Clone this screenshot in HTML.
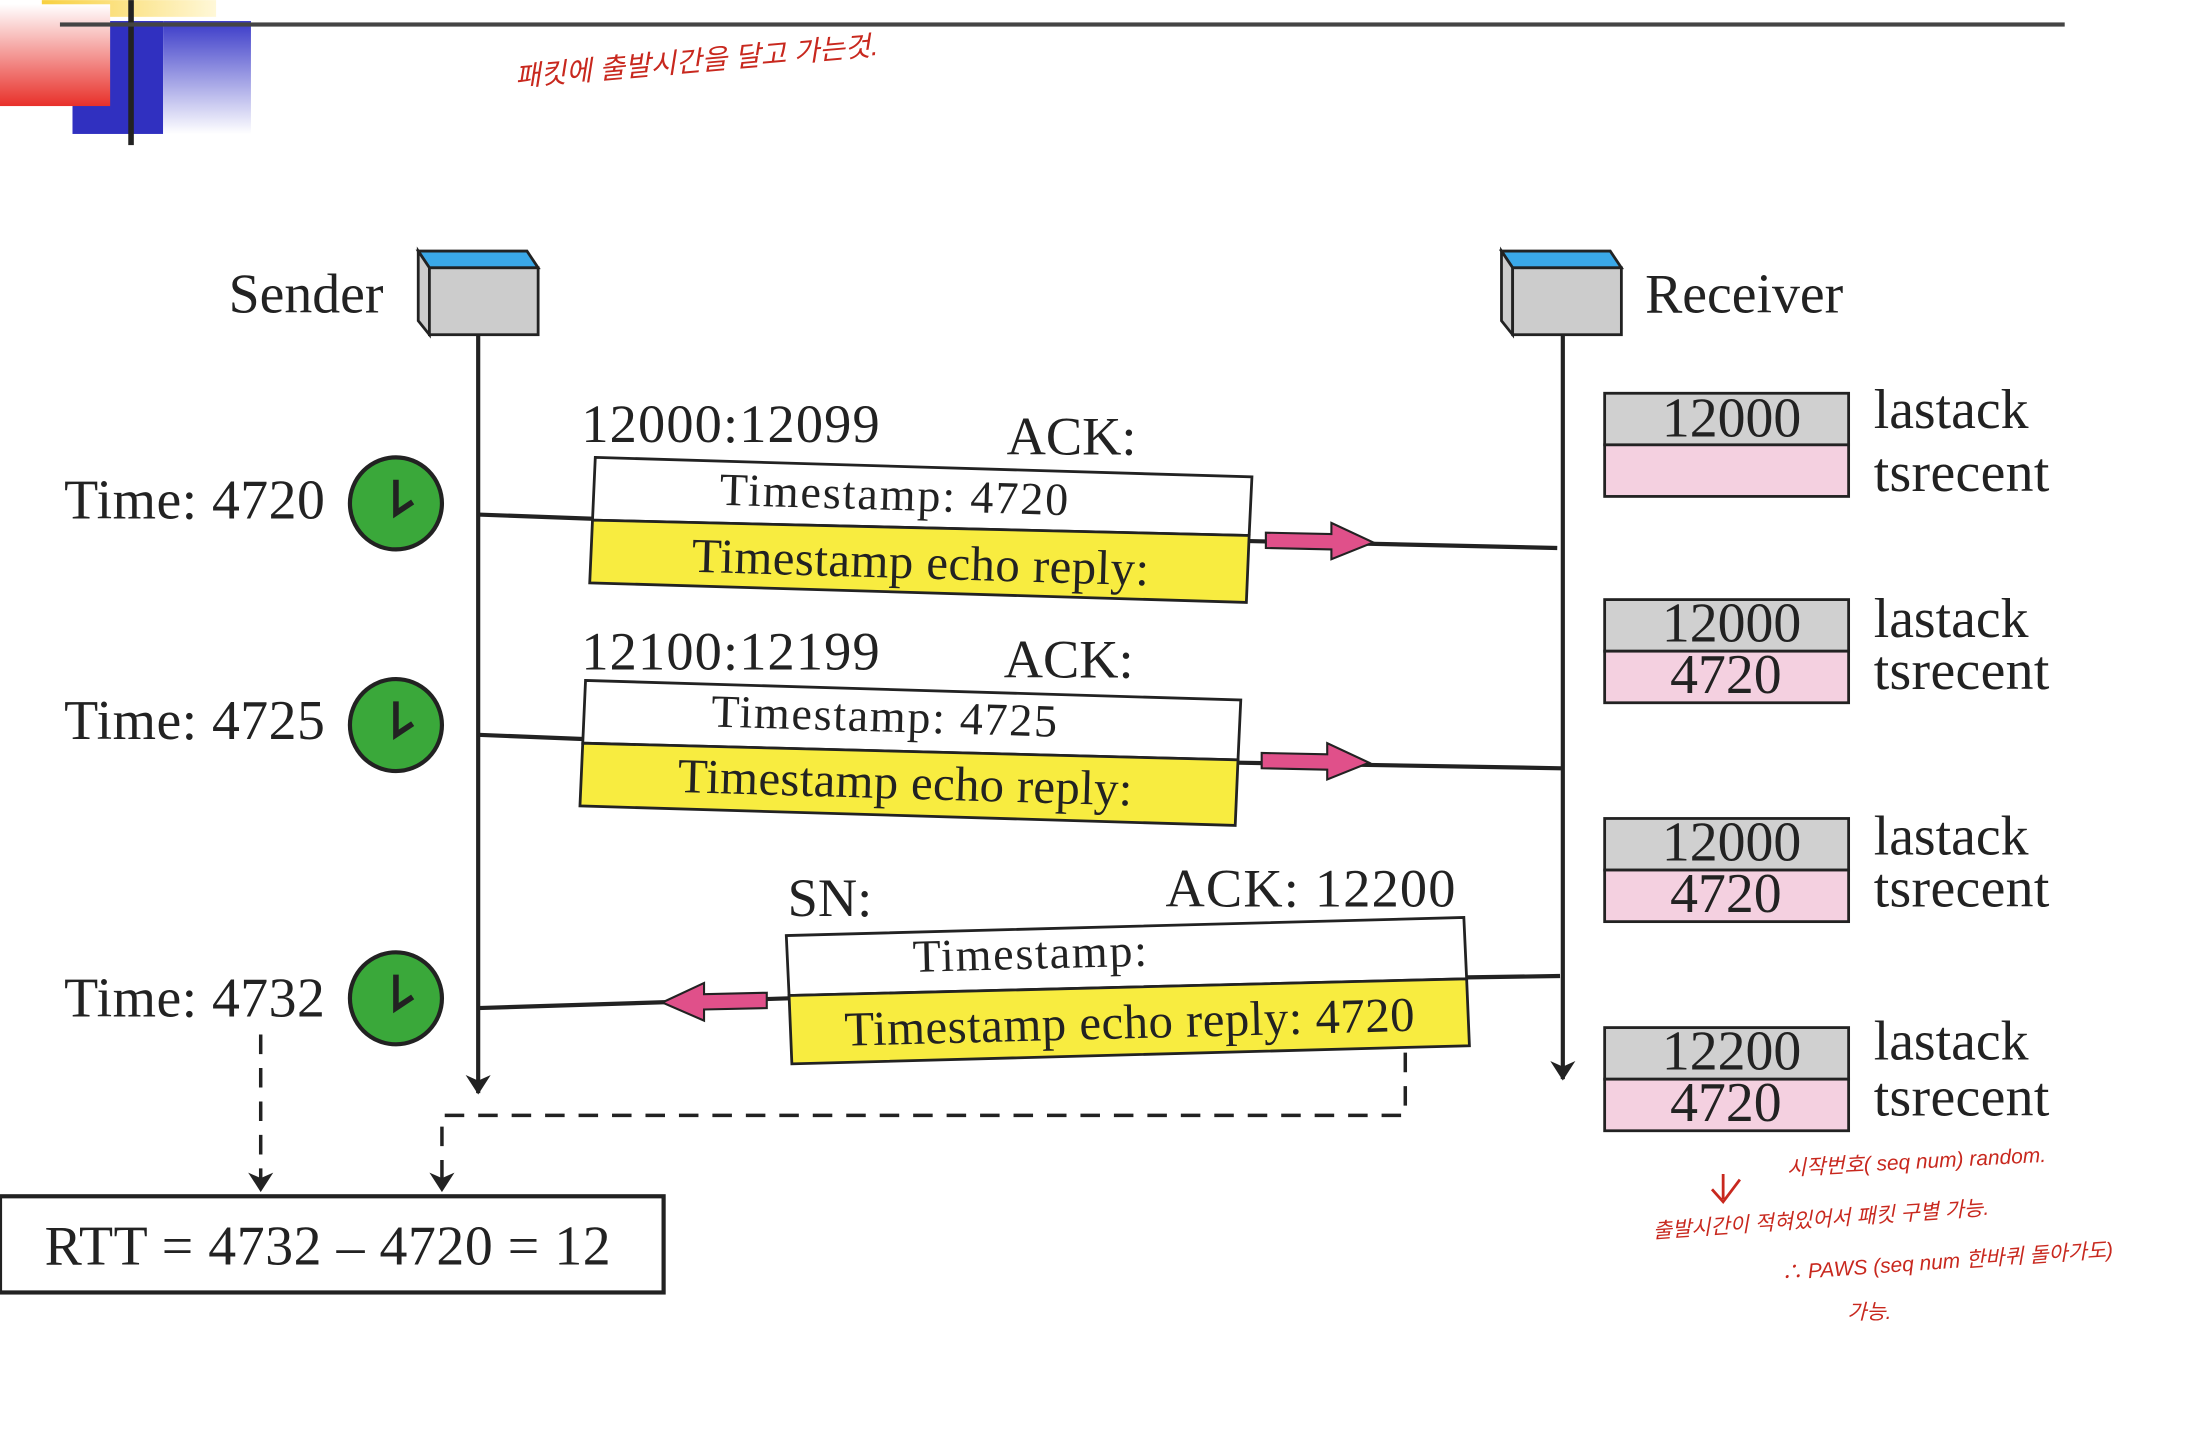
<!DOCTYPE html>
<html><head><meta charset="utf-8"><style>
html,body{margin:0;padding:0;background:#fff;}
svg{display:block}
text{font-family:"Liberation Serif",serif;fill:#222;}
.h{font-family:"Liberation Sans","Noto Sans CJK KR",sans-serif;fill:#c8281e;font-style:italic;}
</style></head><body>
<svg width="2186" height="1432" viewBox="0 0 1568 1027" xmlns="http://www.w3.org/2000/svg">
<defs>
<linearGradient id="rg" x1="0" y1="0" x2="0" y2="1"><stop offset="0" stop-color="#fff"/><stop offset="1" stop-color="#e8302a"/></linearGradient>
<linearGradient id="bg" x1="0" y1="0" x2="0" y2="1"><stop offset="0" stop-color="#3a3ac8"/><stop offset="1" stop-color="#fff"/></linearGradient>
<linearGradient id="yg" x1="0" y1="0" x2="1" y2="0"><stop offset="0" stop-color="#f8d040"/><stop offset="1" stop-color="#fff8d8"/></linearGradient>
<marker id="ah" markerWidth="14" markerHeight="18" refX="13" refY="9" orient="auto" markerUnits="userSpaceOnUse"><path d="M0,0 L14,9 L0,18 L4,9 Z" fill="#222"/></marker>
</defs>
<!-- top decoration -->
<rect x="30" y="0" width="125" height="12" fill="url(#yg)"/>
<rect x="52" y="15" width="65" height="81" fill="#3030c0"/>
<rect x="117" y="15" width="63" height="81" fill="url(#bg)"/>
<rect x="0" y="3" width="79" height="73" fill="url(#rg)"/>
<rect x="92" y="0" width="4" height="104" fill="#222"/>
<rect x="43" y="16" width="1438" height="3" fill="#444"/>
<text x="370" y="62" class="h" font-size="20" transform="rotate(-5 370 62)">패킷에 출발시간을 달고 가는것.</text>

<!-- sender/receiver -->
<text x="164" y="224" font-size="40">Sender</text>
<polygon points="300,180 378,180 386,192 308,192" fill="#3aa8e8" stroke="#222" stroke-width="2"/>
<polygon points="300,180 308,192 308,240 300,230" fill="#ccc" stroke="#222" stroke-width="2"/>
<rect x="308" y="192" width="78" height="48" fill="#ccc" stroke="#222" stroke-width="2"/>
<text x="1180" y="224" font-size="40">Receiver</text>
<polygon points="1077,180 1155,180 1163,192 1085,192" fill="#3aa8e8" stroke="#222" stroke-width="2"/>
<polygon points="1077,180 1085,192 1085,240 1077,230" fill="#ccc" stroke="#222" stroke-width="2"/>
<rect x="1085" y="192" width="78" height="48" fill="#ccc" stroke="#222" stroke-width="2"/>
<line x1="343" y1="240" x2="343" y2="784" stroke="#222" stroke-width="3" marker-end="url(#ah)"/>
<line x1="1121" y1="240" x2="1121" y2="774" stroke="#222" stroke-width="3" marker-end="url(#ah)"/>

<!-- clocks -->
<g stroke="#222" stroke-width="3">
<circle cx="284" cy="361" r="33" fill="#3aa83a"/><path d="M284,344 V368 L296,360" fill="none" stroke-width="4"/>
<circle cx="284" cy="520" r="33" fill="#3aa83a"/><path d="M284,503 V527 L296,519" fill="none" stroke-width="4"/>
<circle cx="284" cy="716" r="33" fill="#3aa83a"/><path d="M284,699 V723 L296,715" fill="none" stroke-width="4"/>
</g>
<text x="46" y="372" font-size="40" textLength="187">Time: 4720</text>
<text x="46" y="530" font-size="40" textLength="187">Time: 4725</text>
<text x="46" y="729" font-size="40" textLength="187">Time: 4732</text>

<!-- packet 1 -->
<line x1="343" y1="369" x2="425" y2="372" stroke="#222" stroke-width="3"/>
<line x1="896" y1="388" x2="1117" y2="393" stroke="#222" stroke-width="3"/>
<polygon points="427,328 898,342 896,384 425,373" fill="#fff" stroke="#222" stroke-width="2"/>
<polygon points="425,373 896,384 894,432 423,418" fill="#f8ec40" stroke="#222" stroke-width="2"/>
<polygon points="908,382 955,383 955,375 985,389 955,401 955,394 908,393" fill="#e0508a" stroke="#222" stroke-width="1.5"/>
<text x="417" y="317" font-size="39" textLength="214">12000:12099</text>
<text x="722" y="326" font-size="39">ACK:</text>
<text x="516" y="362" font-size="33" textLength="250" transform="rotate(1.7 516 362)">Timestamp: 4720</text>
<text x="496" y="410" font-size="35" textLength="328" transform="rotate(1.7 496 410)">Timestamp echo reply:</text>

<!-- packet 2 -->
<line x1="343" y1="527" x2="418" y2="530" stroke="#222" stroke-width="3"/>
<line x1="888" y1="547" x2="1120" y2="551" stroke="#222" stroke-width="3"/>
<polygon points="420,488 890,502 888,545 418,533" fill="#fff" stroke="#222" stroke-width="2"/>
<polygon points="418,533 888,545 886,592 416,578" fill="#f8ec40" stroke="#222" stroke-width="2"/>
<polygon points="905,540 952,541 952,533 982,547 952,559 952,552 905,551" fill="#e0508a" stroke="#222" stroke-width="1.5"/>
<text x="417" y="480" font-size="39" textLength="214">12100:12199</text>
<text x="720" y="486" font-size="39">ACK:</text>
<text x="510" y="521" font-size="33" textLength="248" transform="rotate(1.7 510 521)">Timestamp: 4725</text>
<text x="486" y="568" font-size="35" textLength="326" transform="rotate(1.7 486 568)">Timestamp echo reply:</text>

<!-- packet 3 -->
<line x1="1052" y1="701" x2="1119" y2="700" stroke="#222" stroke-width="3"/>
<line x1="566" y1="716" x2="343" y2="723" stroke="#222" stroke-width="3"/>
<polygon points="564,671 1050,658 1052,702 566,714" fill="#fff" stroke="#222" stroke-width="2"/>
<polygon points="566,714 1052,702 1054,750 568,763" fill="#f8ec40" stroke="#222" stroke-width="2"/>
<polygon points="550,712 505,713 505,705 475,719 505,732 505,724 550,723" fill="#e0508a" stroke="#222" stroke-width="1.5"/>
<text x="565" y="657" font-size="39">SN:</text>
<text x="836" y="650" font-size="39" textLength="208">ACK: 12200</text>
<text x="655" y="697" font-size="33" textLength="168" transform="rotate(-1.5 655 697)">Timestamp:</text>
<text x="606" y="750" font-size="35" textLength="409" transform="rotate(-1.5 606 750)">Timestamp echo reply: 4720</text>

<!-- receiver state tables -->
<g stroke="#222" stroke-width="2">
<rect x="1151" y="282" width="175" height="37" fill="#d0d0d0"/><rect x="1151" y="319" width="175" height="37" fill="#f4d0e0"/>
<rect x="1151" y="430" width="175" height="37" fill="#d0d0d0"/><rect x="1151" y="467" width="175" height="37" fill="#f4d0e0"/>
<rect x="1151" y="587" width="175" height="37" fill="#d0d0d0"/><rect x="1151" y="624" width="175" height="37" fill="#f4d0e0"/>
<rect x="1151" y="737" width="175" height="37" fill="#d0d0d0"/><rect x="1151" y="774" width="175" height="37" fill="#f4d0e0"/>
</g>
<g font-size="40" text-anchor="middle">
<text x="1242" y="313">12000</text>
<text x="1242" y="460">12000</text><text x="1238" y="497">4720</text>
<text x="1242" y="617">12000</text><text x="1238" y="654">4720</text>
<text x="1242" y="767">12200</text><text x="1238" y="804">4720</text>
</g>
<g font-size="40">
<text x="1344" y="307">lastack</text><text x="1344" y="352" textLength="126">tsrecent</text>
<text x="1344" y="457">lastack</text><text x="1344" y="494" textLength="126">tsrecent</text>
<text x="1344" y="613">lastack</text><text x="1344" y="650" textLength="126">tsrecent</text>
<text x="1344" y="760">lastack</text><text x="1344" y="800" textLength="126">tsrecent</text>
</g>

<!-- dashed RTT -->
<g stroke="#222" stroke-width="2.5" stroke-dasharray="14,10" fill="none">
<line x1="187" y1="742" x2="187" y2="854" marker-end="url(#ah)"/>
<polyline points="1008,755 1008,800 317,800 317,854" marker-end="url(#ah)"/>
</g>
<rect x="0" y="858" width="476" height="69" fill="#fff" stroke="#222" stroke-width="3"/>
<text x="32" y="907" font-size="40" textLength="406">RTT = 4732 – 4720 = 12</text>

<!-- handwritten notes -->
<path d="M1236,842 V860 M1228,853 L1236,862 L1248,846" stroke="#c8281e" stroke-width="2" fill="none"/>
<text x="1282" y="843" class="h" font-size="15" transform="rotate(-3 1282 843)">시작번호( seq num) random.</text>
<text x="1186" y="888" class="h" font-size="15" transform="rotate(-4 1186 888)">출발시간이 적혀있어서 패킷 구별 가능.</text>
<text x="1278" y="918" class="h" font-size="15" transform="rotate(-4 1278 918)">∴ PAWS (seq num 한바퀴 돌아가도)</text>
<text x="1325" y="946" class="h" font-size="15">가능.</text>
</svg>
</body></html>
